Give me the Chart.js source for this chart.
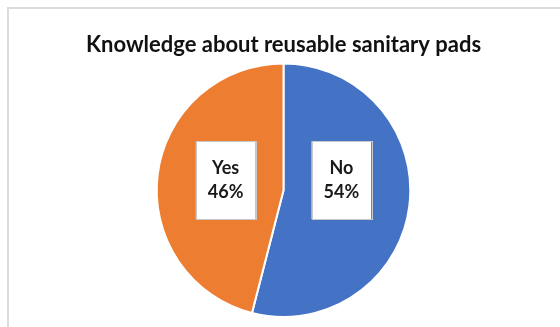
<!DOCTYPE html>
<html>
<head>
<meta charset="utf-8">
<script src="https://cdn.jsdelivr.net/npm/chart.js@4.4.1/dist/chart.umd.min.js"></script>
<style>
  html,body{margin:0;padding:0;background:#fff;}
  #wrap{position:relative;width:560px;height:327px;}
  #frame{position:absolute;left:7px;top:7px;right:0;bottom:0;border-top:2px solid #dcdcdc;border-left:2px solid #dcdcdc;}
  canvas{position:absolute;left:0;top:0;}
</style>
</head>
<body>
<div id="wrap">
  <div id="frame"></div>
  <canvas id="chartPads" width="560" height="327"></canvas>
</div>
<script>
// Knowledge about reusable sanitary pads — pie
const answers=['No','Yes'];
const shares=[54,46];
const sliceColors=['#4472C4','#ED7D31'];
const chartTitle='Knowledge about reusable sanitary pads';

const FONT="Lato, 'Open Sans', sans-serif";

// white boxed labels inside each slice: category + percentage
const boxLabels={
  id:'boxLabels',
  afterDatasetsDraw(chart){
    const ctx=chart.ctx;
    const meta=chart.getDatasetMeta(0);
    ctx.save();
    ctx.font='bold 18px '+FONT;
    ctx.textAlign='center';
    ctx.textBaseline='middle';
    meta.data.forEach((arc,i)=>{
      const p=arc.getProps(['x','y','startAngle','endAngle','outerRadius'],true);
      const mid=(p.startAngle+p.endAngle)/2;
      const cx=p.x+Math.cos(mid)*p.outerRadius*0.46;
      const cy=p.y-10;
      const l1=answers[i], l2=shares[i]+'%';
      const w=Math.max(ctx.measureText(l1).width,ctx.measureText(l2).width)+24;
      const h=78;
      ctx.fillStyle='#fff';
      ctx.fillRect(cx-w/2,cy-h/2,w,h);
      ctx.strokeStyle='#c8c8c8';
      ctx.lineWidth=1;
      ctx.strokeRect(Math.round(cx-w/2)+.5,Math.round(cy-h/2)+.5,Math.round(w),h);
      ctx.fillStyle='#1a1a1a';
      ctx.fillText(l1,cx,cy-12);
      ctx.fillText(l2,cx,cy+12);
    });
    ctx.restore();
  }
};

new Chart(document.getElementById('chartPads'),{
  type:'pie',
  data:{
    labels:answers,
    datasets:[{
      data:shares,
      backgroundColor:sliceColors,
      borderColor:'#fff',
      borderWidth:2
    }]
  },
  options:{
    responsive:false,
    animation:false,
    layout:{padding:{left:10,right:3,bottom:9}},
    plugins:{
      legend:{display:false},
      tooltip:{enabled:false},
      title:{
        display:true,
        text:chartTitle,
        color:'#111',
        font:{family:FONT,size:22,weight:'bold',lineHeight:1.2},
        padding:{top:32,bottom:4}
      }
    }
  },
  plugins:[boxLabels]
});
</script>
</body>
</html>
